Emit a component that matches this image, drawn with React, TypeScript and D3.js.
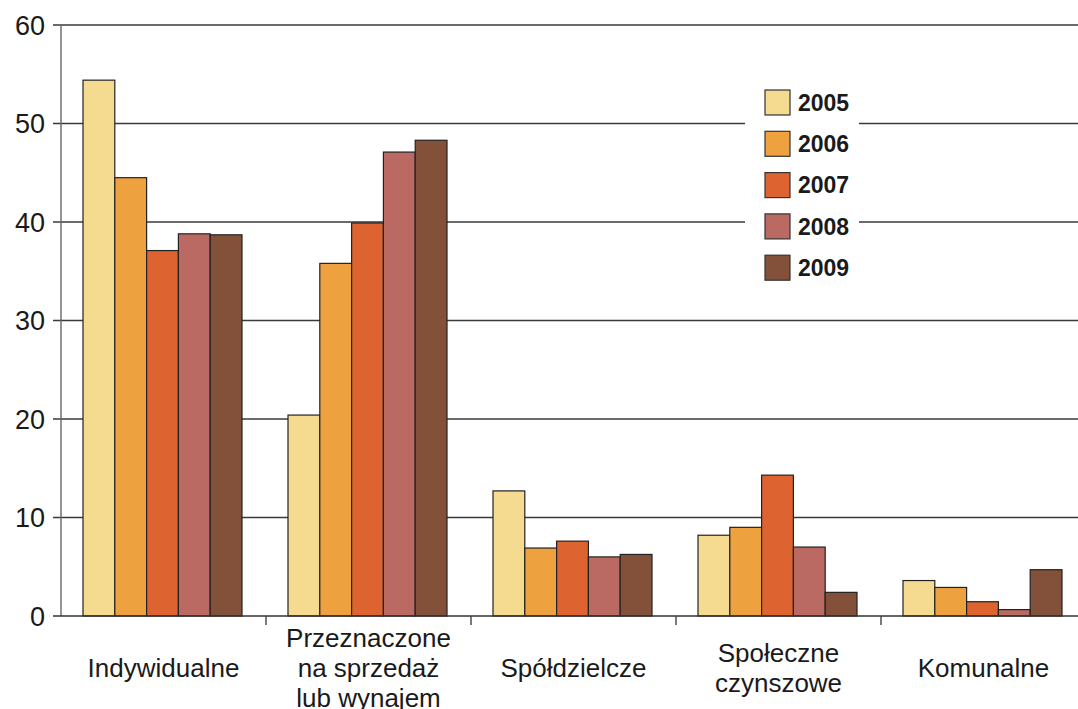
import React, { useEffect, useRef } from "react";
import * as d3 from "d3";

// Categories (lines of each label split by "\n")
const categories = [
  "Indywidualne",
  "Przeznaczone\nna sprzedaż\nlub wynajem",
  "Spółdzielcze",
  "Społeczne\nczynszowe",
  "Komunalne",
];

const years = ["2005", "2006", "2007", "2008", "2009"];

const colors = ["#F5DB8F", "#EDA13F", "#DD6431", "#BA6A63", "#83503A"];

// values per year, in category order
const v2005 = [54.4, 20.4, 12.7, 8.2, 3.6];
const v2006 = [44.5, 35.8, 6.9, 9.0, 2.9];
const v2007 = [37.1, 39.9, 7.6, 14.3, 1.45];
const v2008 = [38.8, 47.1, 6.0, 7.0, 0.65];
const v2009 = [38.7, 48.3, 6.25, 2.4, 4.7];

const yTicks = [0, 10, 20, 30, 40, 50, 60];

const W = 1078;
const H = 709;

const App = () => {
  const ref = useRef<SVGSVGElement>(null);

  useEffect(() => {
    const series = [v2005, v2006, v2007, v2008, v2009];
    const svg = d3.select(ref.current).attr("width", W).attr("height", H);
    svg.selectAll("*").remove();

    const left = 61;
    const x = d3.scaleBand<string>().domain(categories).range([left, 1086]);
    const xi = d3.scaleBand<string>().domain(years).range([22, 181]);
    const y = d3.scaleLinear().domain([0, 60]).range([616, 25]);

    const font = "'Liberation Sans', Arial, sans-serif";

    // gridlines
    svg.append("g")
      .selectAll("line")
      .data(yTicks.slice(1))
      .join("line")
      .attr("x1", 53)
      .attr("x2", W)
      .attr("y1", d => y(d))
      .attr("y2", d => y(d))
      .attr("stroke", "#3a3a3a")
      .attr("stroke-width", 1.4);

    // y tick labels
    svg.append("g")
      .selectAll("text")
      .data(yTicks)
      .join("text")
      .attr("x", 45)
      .attr("y", d => y(d))
      .attr("dy", "0.36em")
      .attr("text-anchor", "end")
      .attr("font-family", font)
      .attr("font-size", 27)
      .attr("fill", "#1a1a1a")
      .text(d => d);

    // bars
    const groups = svg.append("g")
      .selectAll("g")
      .data(categories)
      .join("g")
      .attr("transform", d => `translate(${x(d)},0)`);

    groups.selectAll("rect")
      .data((_, ci) => years.map((yr, yi) => ({ yr, yi, v: series[yi][ci] })))
      .join("rect")
      .attr("x", d => xi(d.yr)!)
      .attr("width", xi.bandwidth())
      .attr("y", d => y(d.v))
      .attr("height", d => y(0) - y(d.v))
      .attr("fill", d => colors[d.yi])
      .attr("stroke", "#222")
      .attr("stroke-width", 1.2);

    // y axis line
    svg.append("line")
      .attr("x1", left).attr("x2", left)
      .attr("y1", y(60)).attr("y2", y(0))
      .attr("stroke", "#666").attr("stroke-width", 1.4);

    // x axis line
    svg.append("line")
      .attr("x1", 53).attr("x2", W)
      .attr("y1", y(0)).attr("y2", y(0))
      .attr("stroke", "#333").attr("stroke-width", 1.6);

    // category separator ticks
    svg.append("g")
      .selectAll("line")
      .data(categories.slice(1))
      .join("line")
      .attr("x1", d => x(d)!)
      .attr("x2", d => x(d)!)
      .attr("y1", y(0))
      .attr("y2", y(0) + 9)
      .attr("stroke", "#444")
      .attr("stroke-width", 1.4);

    // category labels
    const lh = 30;
    svg.append("g")
      .selectAll("text")
      .data(categories)
      .join("text")
      .attr("text-anchor", "middle")
      .attr("font-family", font)
      .attr("font-size", 26)
      .attr("fill", "#1a1a1a")
      .each(function (d) {
        const lines = d.split("\n");
        const cx = x(d)! + x.bandwidth() / 2;
        const cy = 668 - ((lines.length - 1) * lh) / 2;
        d3.select(this)
          .selectAll("tspan")
          .data(lines)
          .join("tspan")
          .attr("x", cx)
          .attr("y", (_, i) => cy + i * lh)
          .attr("dy", "0.36em")
          .text(t => t);
      });

    // legend
    const lg = svg.append("g");
    lg.append("rect")
      .attr("x", 745).attr("y", 80)
      .attr("width", 114).attr("height", 212)
      .attr("fill", "#fff");
    const items = lg.selectAll("g.item")
      .data(years)
      .join("g")
      .attr("class", "item")
      .attr("transform", (_, i) => `translate(765,${90 + i * 41.3})`);
    items.append("rect")
      .attr("width", 25).attr("height", 25)
      .attr("fill", (_, i) => colors[i])
      .attr("stroke", "#333").attr("stroke-width", 1.2);
    items.append("text")
      .attr("x", 33).attr("y", 12.5).attr("dy", "0.36em")
      .attr("font-family", font)
      .attr("font-size", 23)
      .attr("font-weight", "bold")
      .attr("fill", "#1a1a1a")
      .text(d => d);
  }, []);

  return (
    <div style={{ position: "absolute", left: 0, top: 0 }}>
      <svg ref={ref} style={{ display: "block" }}></svg>
    </div>
  );
};

export default App;
